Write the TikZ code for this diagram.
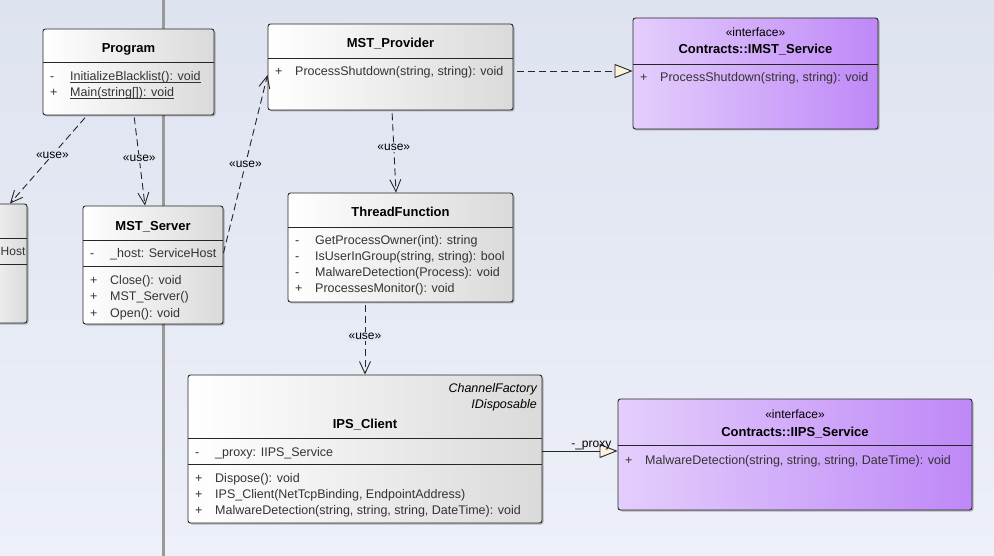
\documentclass[tikz,border=0pt]{standalone}
\usepackage{fontspec}
\setmainfont{Liberation Sans}
\usetikzlibrary{arrows.meta,shadows}
\definecolor{bgtop}{RGB}{222,227,240}
\definecolor{bgbot}{RGB}{237,240,248}
\definecolor{boxgray}{RGB}{218,218,218}
\definecolor{ifl}{RGB}{228,206,252}
\definecolor{ifr}{RGB}{190,136,247}
\definecolor{memtext}{RGB}{51,51,51}
\definecolor{cream}{RGB}{253,242,220}
\definecolor{lblbg}{RGB}{225,230,242}
\newcommand{\memf}{\fontsize{12.5}{14}\selectfont}
\newcommand{\titf}{\fontsize{13}{15}\selectfont\bfseries}
\newcommand{\smf}{\fontsize{12}{14}\selectfont}
\newcommand{\ul}[1]{\setbox0\hbox{#1}\rlap{\rule[-1.6pt]{\wd0}{0.8pt}}\box0}
\tikzset{
  cls/.style={draw=black!85, line width=0.9pt, rounded corners=2.5pt, left color=white, right color=boxgray, inner sep=0pt,
    drop shadow={shadow xshift=1.5pt, shadow yshift=-1.5pt, opacity=0.25, fill=black}},
  iface/.style={cls, left color=ifl, right color=ifr},
  ttl/.style={font=\titf, anchor=base, inner sep=0pt},
  stereo/.style={font=\smf, anchor=base, inner sep=0pt},
  mem/.style={font=\memf, text=memtext, anchor=base west, inner sep=0pt},
  sepline/.style={draw=black!85, line width=0.9pt},
  usedep/.style={draw=black!85, line width=0.9pt, dash pattern=on 7pt off 4pt, -{Straight Barb[length=12pt,width=11pt]}},
  realize/.style={draw=black!85, line width=0.9pt, dash pattern=on 7pt off 4pt, -{Triangle[open,length=18pt,width=14pt,fill=cream]}},
  assoc/.style={draw=black!85, line width=0.9pt, -{Triangle[open,length=18pt,width=14pt,fill=cream]}},
  lbl/.style={font=\smf, fill=lblbg, inner sep=1pt}
}
\begin{document}
\begin{tikzpicture}[x=1pt,y=-1pt]
\useasboundingbox (0,0) rectangle (994,556);
\clip (0,0) rectangle (994,556);
\shade[top color=bgtop, bottom color=bgbot] (0,0) rectangle (994,556);
% vertical divider
\draw[line width=3pt, color=black!40] (163,0) -- (163,556);

% left cut box
\node[cls, minimum width=57pt, minimum height=119pt] (left) at (-1.5,263.5) {};
\draw[sepline] (-30,238) -- (27,238);
\draw[sepline] (-30,264) -- (27,264);
\node[font=\fontsize{12}{14}\selectfont, text=memtext, anchor=base west, inner sep=0pt] at (0.5,256) {Host};

% Program
\node[cls, minimum width=171pt, minimum height=86pt] (prog) at (128.5,72) {};
\node[ttl] at (128.5,53) {Program};
\draw[sepline] (43,62) -- (214,62);
\node[mem] at (50,81) {-};
\node[mem] at (70,81) {\ul{InitializeBlacklist(): void}};
\node[mem] at (50,97) {+};
\node[mem] at (70,97) {\ul{Main(string[]): void}};

% MST_Server
\node[cls, minimum width=140pt, minimum height=118pt] (srv) at (153,265) {};
\node[ttl] at (153,231) {MST\_Server};
\draw[sepline] (83,240) -- (223,240);
\node[mem] at (90,258) {-};
\node[mem] at (110,258) {\_host: ServiceHost};
\draw[sepline] (83,266) -- (223,266);
\node[mem] at (90,284) {+};
\node[mem] at (110,284) {Close(): void};
\node[mem] at (90,301) {+};
\node[mem] at (110,301) {MST\_Server()};
\node[mem] at (90,317) {+};
\node[mem] at (110,317) {Open(): void};

% MST_Provider
\node[cls, minimum width=245pt, minimum height=86pt] (prov) at (390.5,67) {};
\node[ttl] at (390.5,48) {MST\_Provider};
\draw[sepline] (268,58) -- (513,58);
\node[mem] at (275,76) {+};
\node[mem] at (295,76) {ProcessShutdown(string, string): void};

% IMST_Service
\node[iface, minimum width=245pt, minimum height=111pt] (imst) at (755.5,73.5) {};
\node[stereo] at (755.5,37) {«interface»};
\node[ttl] at (755.5,54) {Contracts::IMST\_Service};
\draw[sepline] (633,64) -- (878,64);
\node[mem] at (640,82) {+};
\node[mem] at (660,82) {ProcessShutdown(string, string): void};

% ThreadFunction
\node[cls, minimum width=225pt, minimum height=109pt] (thr) at (400.5,247.5) {};
\node[ttl] at (400.5,217) {ThreadFunction};
\draw[sepline] (288,227) -- (513,227);
\node[mem] at (295,245) {-};
\node[mem] at (315,245) {GetProcessOwner(int): string};
\node[mem] at (295,261) {-};
\node[mem] at (315,261) {IsUserInGroup(string, string): bool};
\node[mem] at (295,277) {-};
\node[mem] at (315,277) {MalwareDetection(Process): void};
\node[mem] at (295,293) {+};
\node[mem] at (315,293) {ProcessesMonitor(): void};

% IPS_Client
\node[cls, minimum width=354pt, minimum height=148pt] (ips) at (365,449) {};
\node[font=\memf\itshape, anchor=base east, inner sep=0pt] at (537,392) {ChannelFactory};
\node[font=\memf\itshape, anchor=base east, inner sep=0pt] at (537,408) {IDisposable};
\node[ttl] at (365,428) {IPS\_Client};
\draw[sepline] (188,438) -- (542,438);
\node[mem] at (195,456) {-};
\node[mem] at (215,456) {\_proxy: IIPS\_Service};
\draw[sepline] (188,464) -- (542,464);
\node[mem] at (195,482) {+};
\node[mem] at (215,482) {Dispose(): void};
\node[mem] at (195,498) {+};
\node[mem] at (215,498) {IPS\_Client(NetTcpBinding, EndpointAddress)};
\node[mem] at (195,514) {+};
\node[mem] at (215,514) {MalwareDetection(string, string, string, DateTime): void};

% IIPS_Service
\node[iface, minimum width=354pt, minimum height=111pt] (iips) at (795,454.5) {};
\node[stereo] at (795,418) {«interface»};
\node[ttl] at (795,436) {Contracts::IIPS\_Service};
\draw[sepline] (618,445) -- (972,445);
\node[mem] at (625,464) {+};
\node[mem] at (645,464) {MalwareDetection(string, string, string, DateTime): void};

% connectors
\draw[usedep, shorten <=3pt] ([xshift=-41.5pt]prog.south) -- node[lbl, pos=0.45] {«use»} ([xshift=11.5pt]left.north);
\draw[usedep, shorten <=2pt] ([xshift=5.5pt]prog.south) -- node[lbl, pos=0.48] {«use»} ([xshift=-8pt]srv.north);
\draw[usedep] ([yshift=12pt]srv.east) -- node[lbl, pos=0.5] {«use»} ([yshift=-8pt]prov.west);
\draw[realize, shorten <=4pt] ([yshift=-4pt]prov.east) -- ([yshift=2.5pt]imst.west);
\draw[usedep, shorten <=3pt] ([xshift=1.5pt]prov.south) -- node[lbl, pos=0.45] {«use»} ([xshift=-4.5pt]thr.north);
\draw[usedep, shorten <=3pt] ([xshift=-35.5pt]thr.south) -- node[lbl, pos=0.47] {«use»} (ips.north);
\draw[assoc] ([yshift=-2pt]ips.east) -- node[font=\smf, pos=0.65, above, inner sep=1pt] {-\_proxy} ([yshift=3.5pt]iips.west);
\end{tikzpicture}
\end{document}
